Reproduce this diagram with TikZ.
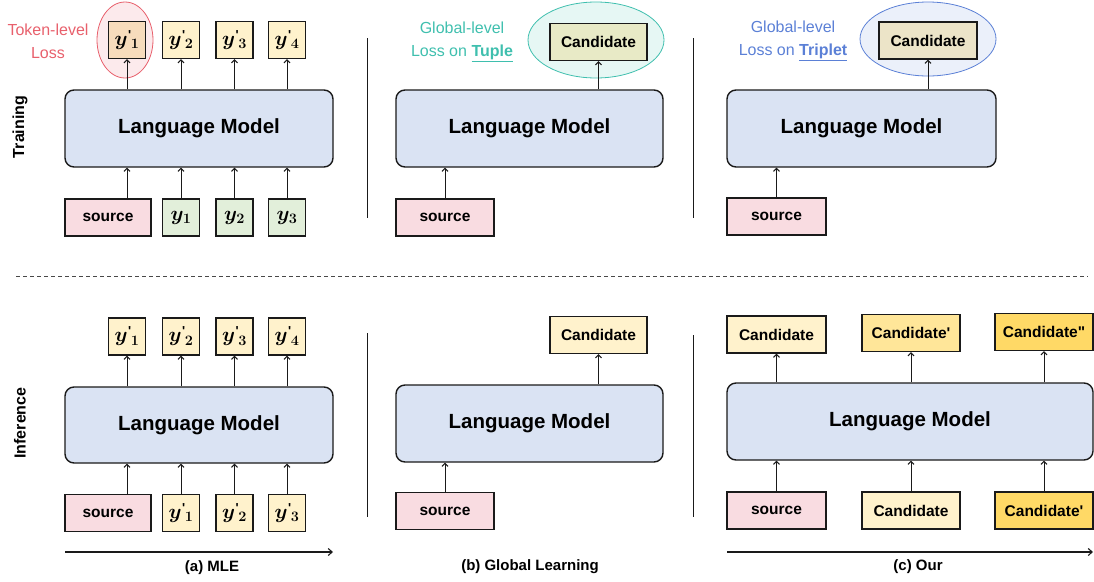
\documentclass[tikz,border=0pt]{standalone}
\usepackage{fontspec}
\setmainfont{Liberation Sans}
\usepackage{bm}
\usetikzlibrary{arrows.meta}

\definecolor{lmblue}{HTML}{DAE3F3}
\definecolor{srcpink}{HTML}{F9DCE1}
\definecolor{ylight}{HTML}{FFF2CC}
\definecolor{ymid}{HTML}{FFE699}
\definecolor{ydark}{HTML}{FFD966}
\definecolor{ygreen}{HTML}{E2EFDA}
\definecolor{peach}{HTML}{F7DCBC}
\definecolor{olive}{HTML}{E8EAC6}
\definecolor{sand}{HTML}{ECE4C8}
\definecolor{lossred}{HTML}{E8606C}
\definecolor{lossteal}{HTML}{3FBFAE}
\definecolor{lossblue}{HTML}{5B80D6}
\definecolor{edge}{HTML}{1A1A1A}

% token labels: bold italic y, a straight tick, then the index
\newcommand{\yp}[1]{$\bm{y}$\kern0.5pt\raisebox{0.30em}{\fontsize{13}{13}\selectfont\bfseries\textquotesingle}\kern-0.5pt$_{\bm{#1}}$}
\newcommand{\yy}[1]{$\bm{y}_{\bm{#1}}$}

\tikzset{
  lm/.style={draw=edge, line width=1.4pt, fill=lmblue, rounded corners=9pt,
    minimum height=77pt, font=\bfseries\fontsize{20.5}{22}\selectfont},
  box/.style={draw=edge, line width=1.4pt, inner sep=0pt, minimum height=37pt,
    font=\bfseries\fontsize{15.5}{17}\selectfont},
  tok/.style={box, minimum width=37pt, font=\bfseries\fontsize{20}{22}\selectfont},
  src/.style={box, fill=srcpink},
  arr/.style={-{Straight Barb[length=3pt,width=6pt]}, line width=1pt, draw=edge},
  axis/.style={-{Straight Barb[length=4pt,width=7pt]}, line width=1.1pt, draw=edge},
  divider/.style={line width=1pt, draw=edge},
  caption/.style={font=\bfseries\fontsize{15}{17}\selectfont},
  side/.style={font=\bfseries\fontsize{16}{18}\selectfont, rotate=90},
  note/.style={font=\fontsize{16}{23}\selectfont, align=center},
}

\begin{document}
\begin{tikzpicture}[x=1pt, y=-1pt]
\useasboundingbox (0,0) rectangle (1094,581);

% ---------- row labels ----------
\node[side] (ltrain) at (20,127) {Training};
\node[side] (linfer) at (20,423) {Inference};

% ---------- separators ----------
\draw[dashed, dash pattern=on 4pt off 3pt, line width=0.8pt, draw=edge!80] (16,276) -- (1088,276);
\draw[divider] (367,38) -- (367,218);
\draw[divider] (693,38) -- (693,218);
\draw[divider] (367,333) -- (367,517);
\draw[divider] (693,335) -- (693,517);

% ================= (a) MLE, training =================
\draw[draw=lossred, fill=lossred!13, line width=0.8pt] (125,40) ellipse [x radius=28, y radius=38];
\node[note, text=lossred] (tokloss) at (48,41.5) {Token-level\\Loss};

\node[lm, minimum width=268pt] (lmA) at (199,128.5) {Language Model};
\node[tok, fill=peach] (aT1) at (127,40) {\yp{1}};
\node[tok, fill=ylight] (aT2) at (181,40) {\yp{2}};
\node[tok, fill=ylight] (aT3) at (234.5,40) {\yp{3}};
\node[tok, fill=ylight] (aT4) at (287,40) {\yp{4}};
\node[src, minimum width=86pt] (aS) at (108,217.5) {source};
\node[tok, fill=ygreen] (aB1) at (181,217.5) {\yy{1}};
\node[tok, fill=ygreen] (aB2) at (234.5,217.5) {\yy{2}};
\node[tok, fill=ygreen] (aB3) at (287,217.5) {\yy{3}};

\foreach \t in {aT1,aT2,aT3,aT4}
  \draw[arr] (lmA.north -| \t) -- (\t.south);
\draw[arr] (aS.north -| aT1) -- (lmA.south -| aT1);
\foreach \b in {aB1,aB2,aB3}
  \draw[arr] (\b.north) -- (lmA.south -| \b);

% ================= (b) Global learning, training =================
\draw[draw=lossteal, fill=lossteal!13, line width=0.8pt] (596,40) ellipse [x radius=68, y radius=38];
\node[note, text=lossteal] (tuploss) at (462,41.5) {Global-level\\Loss on \underline{\textbf{Tuple}}};

\node[lm, minimum width=267pt] (lmB) at (529.5,128.5) {Language Model};
\node[box, minimum width=97pt, fill=olive] (bC) at (598.5,42) {Candidate};
\node[src, minimum width=98pt] (bS) at (445,217.5) {source};
\draw[arr] (lmB.north -| bC) -- (bC.south);
\draw[arr] (bS.north) -- (lmB.south -| bS);

% ================= (c) Our, training =================
\draw[draw=lossblue, fill=lossblue!12, line width=0.8pt] (928,39) ellipse [x radius=68, y radius=37];
\node[note, text=lossblue] (triloss) at (793,41) {Global-level\\Loss on \underline{\textbf{Triplet}}};

\node[lm, minimum width=269pt] (lmC) at (861.5,128.5) {Language Model};
\node[box, minimum width=98pt, fill=sand] (cC) at (928,40.5) {Candidate};
\node[src, minimum width=99pt] (cS) at (776.5,216.5) {source};
\draw[arr] (lmC.north -| cC) -- (cC.south);
\draw[arr] (cS.north) -- (lmC.south -| cS);

% ================= (a) MLE, inference =================
\node[lm, minimum width=268pt, minimum height=76pt] (lmD) at (199,425) {Language Model};
\node[tok, fill=ylight] (dT1) at (127,336.5) {\yp{1}};
\node[tok, fill=ylight] (dT2) at (181,336.5) {\yp{2}};
\node[tok, fill=ylight] (dT3) at (234.5,336.5) {\yp{3}};
\node[tok, fill=ylight] (dT4) at (287,336.5) {\yp{4}};
\node[src, minimum width=86pt] (dS) at (108,513) {source};
\node[tok, fill=ylight] (dB1) at (181,513) {\yp{1}};
\node[tok, fill=ylight] (dB2) at (234.5,513) {\yp{2}};
\node[tok, fill=ylight] (dB3) at (287,513) {\yp{3}};

\foreach \t in {dT1,dT2,dT3,dT4}
  \draw[arr] (lmD.north -| \t) -- (\t.south);
\draw[arr] (dS.north -| dT1) -- (lmD.south -| dT1);
\foreach \b in {dB1,dB2,dB3}
  \draw[arr] (\b.north) -- (lmD.south -| \b);

\coordinate (aAx0) at (65,552);
\coordinate (aAx1) at (333,552);
\draw[axis] (aAx0) -- (aAx1);
\node[caption] (capA) at (212,568) {(a) MLE};

% ================= (b) Global learning, inference =================
\node[lm, minimum width=267pt, minimum height=77pt] (lmE) at (529.5,423.5) {Language Model};
\node[box, minimum width=97pt, fill=ylight] (eC) at (598.5,335) {Candidate};
\node[src, minimum width=98pt] (eS) at (445,511) {source};
\draw[arr] (lmE.north -| eC) -- (eC.south);
\draw[arr] (eS.north) -- (lmE.south -| eS);
\node[caption] (capB) at (530,567) {(b) Global Learning};

% ================= (c) Our, inference =================
\node[lm, minimum width=366pt, minimum height=77pt] (lmF) at (910,421.5) {Language Model};
\node[box, minimum width=99pt, fill=ylight] (fT1) at (776.5,334.5) {Candidate};
\node[box, minimum width=98pt, fill=ymid] (fT2) at (911,333) {Candidate\textquotesingle};
\node[box, minimum width=98pt, fill=ydark] (fT3) at (1044,332) {Candidate\textquotedbl};
\node[src, minimum width=99pt] (fS) at (776.5,510.5) {source};
\node[box, minimum width=98pt, fill=ylight] (fB2) at (911,510.5) {Candidate};
\node[box, minimum width=98pt, fill=ydark] (fB3) at (1044,510.5) {Candidate\textquotesingle};

\foreach \t in {fT1,fT2,fT3}
  \draw[arr] (lmF.north -| \t) -- (\t.south);
\foreach \b in {fS,fB2,fB3}
  \draw[arr] (\b.north) -- (lmF.south -| \b);

\coordinate (cAx0) at (727,552);
\coordinate (cAx1) at (1093,552);
\draw[axis] (cAx0) -- (cAx1);
\node[caption] (capC) at (918,567) {(c) Our};

\end{tikzpicture}
\end{document}
